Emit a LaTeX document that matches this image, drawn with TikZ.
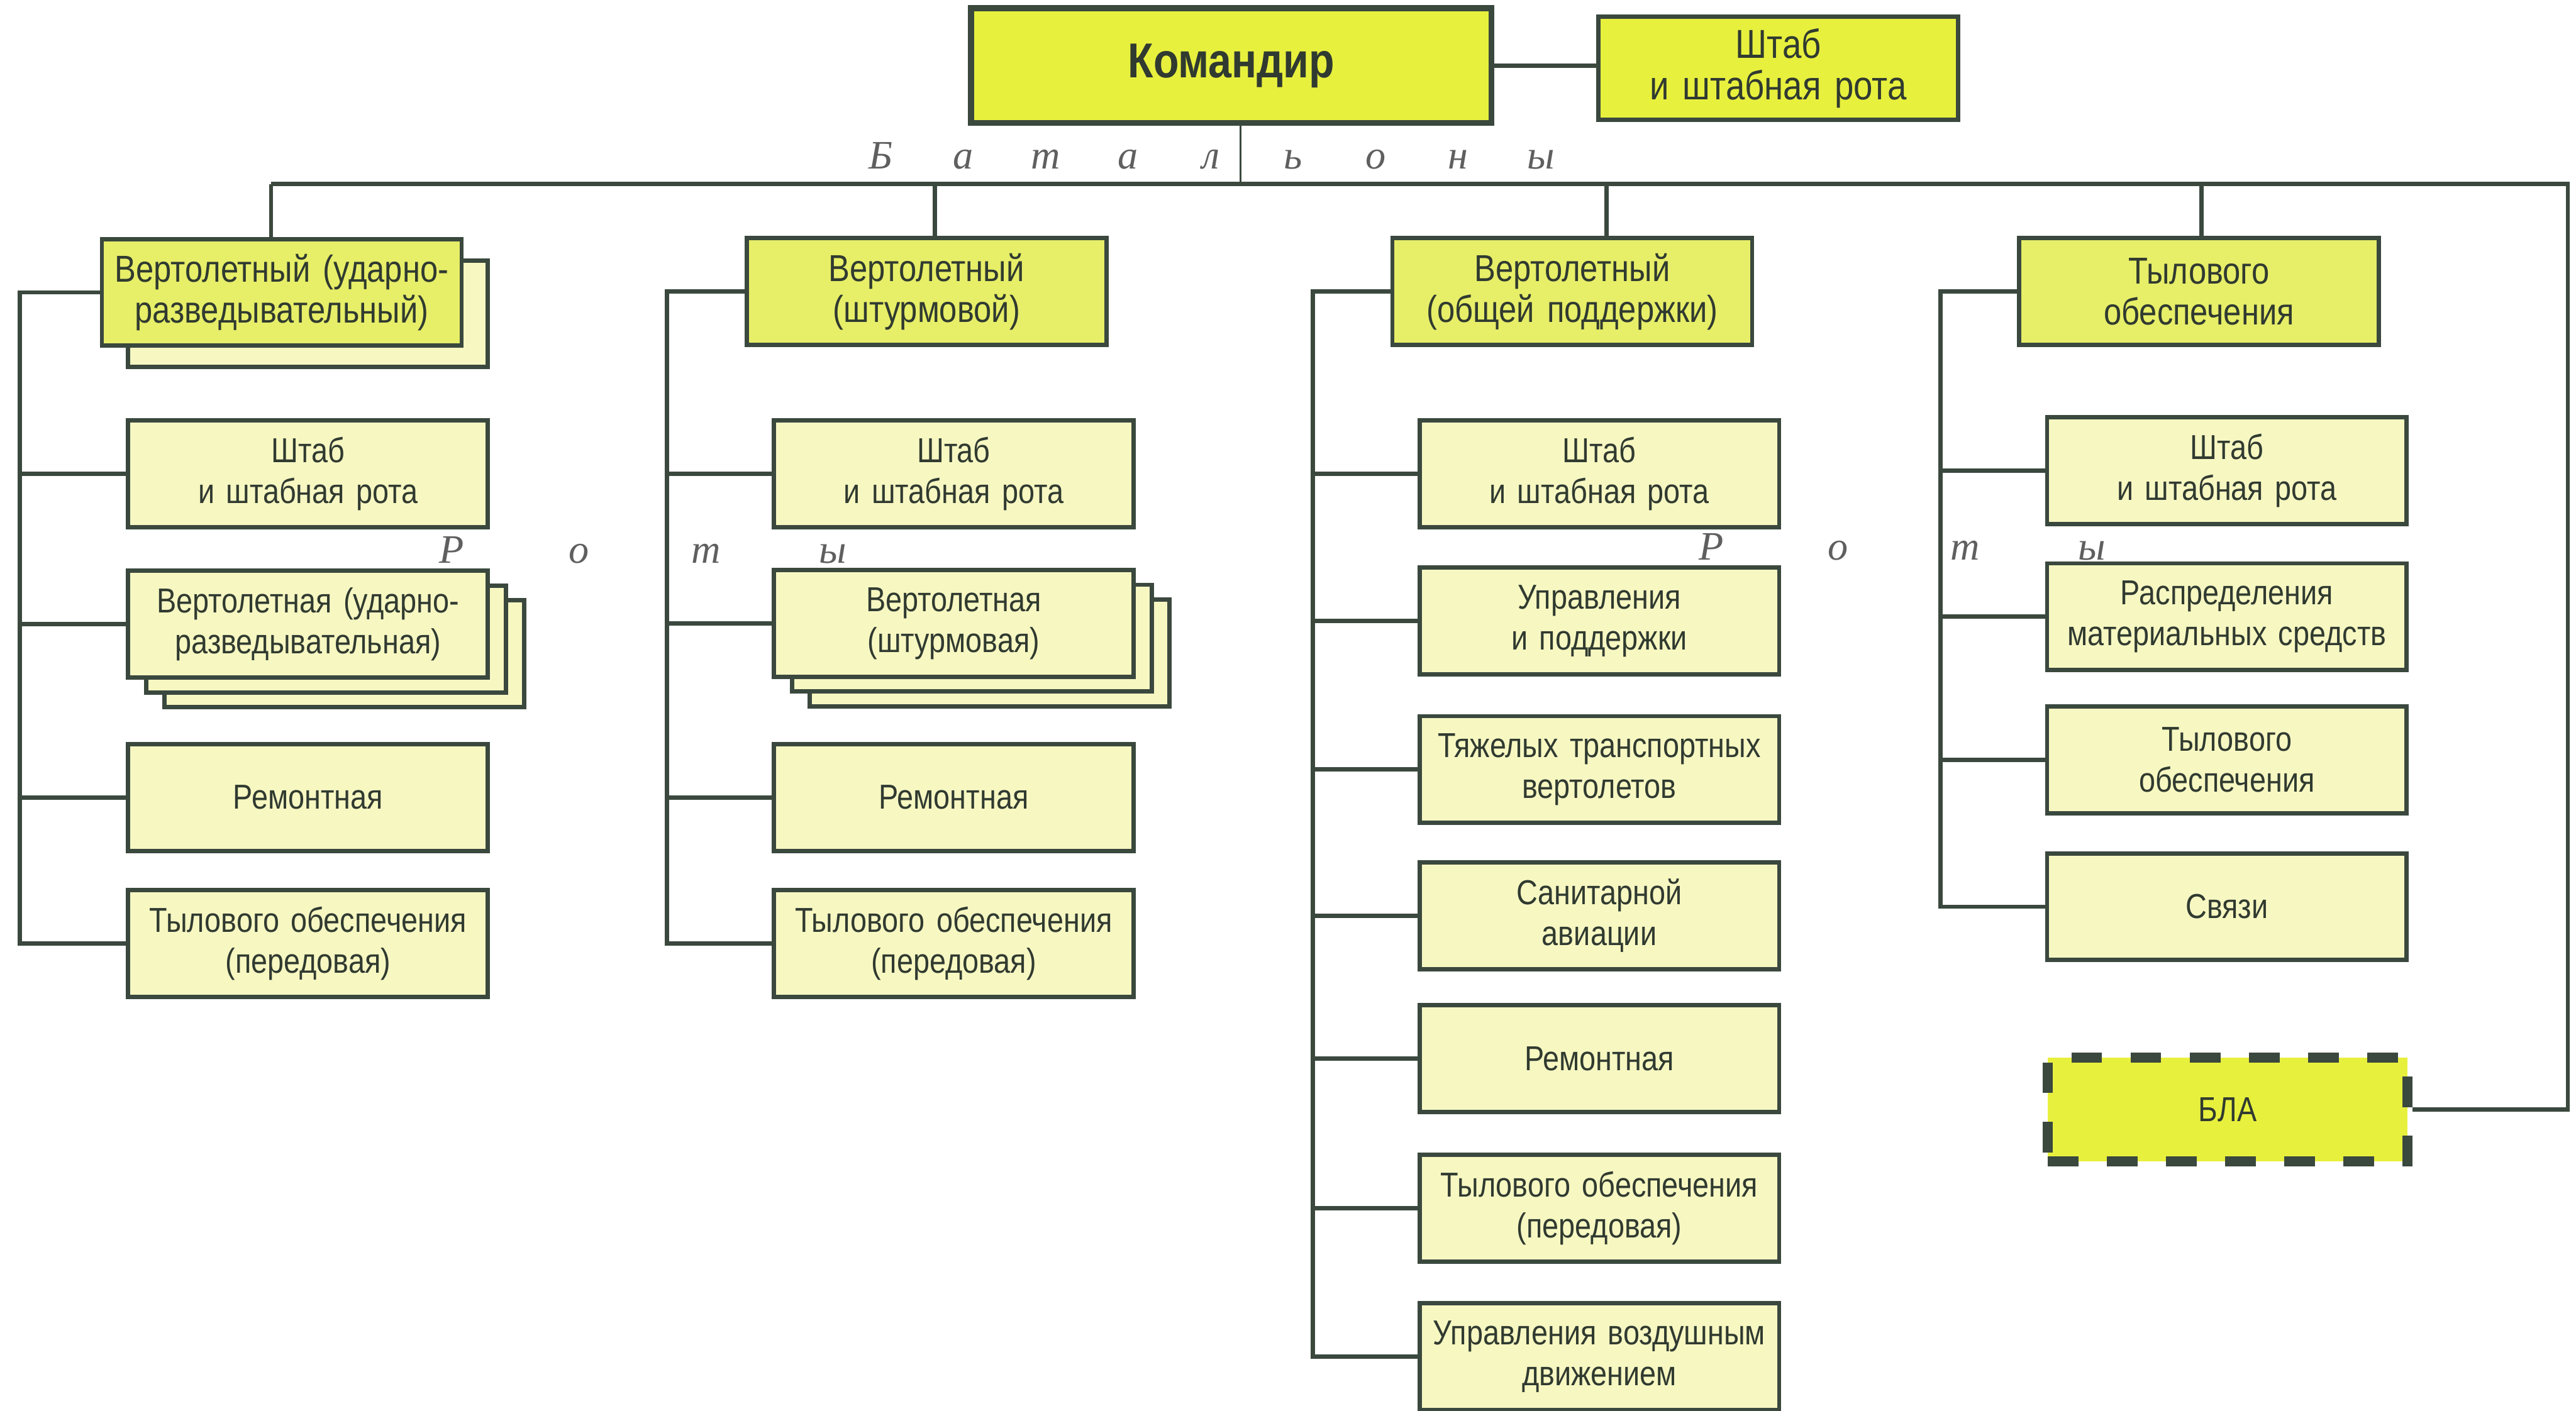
\documentclass[tikz,border=0pt]{standalone}
\usepackage{fontspec}
\setmainfont{Liberation Sans}[FakeStretch=0.85]
\newfontfamily\letterfont{Liberation Serif}
\usepackage{xcolor}
\usepackage{tikz}
\usetikzlibrary{positioning,shadows}

\definecolor{cmdyellow}{RGB}{232,240,62}
\definecolor{batyellow}{RGB}{231,238,104}
\definecolor{unityellow}{RGB}{247,247,194}
\definecolor{edge}{RGB}{58,72,62}
\definecolor{ink}{RGB}{48,58,48}
\definecolor{lettergray}{RGB}{95,95,95}

\newcommand{\ls}[2][1.005cm]{\makebox[#1][c]{#2}}

\begin{document}
\begin{tikzpicture}[
  x=0.02cm, y=-0.02cm,
  box/.style={rectangle, draw=edge, line width=1.5pt, text=ink, align=center, inner sep=0pt, minimum width=4.38cm, minimum height=1.3cm, text width=4.2cm},
  unit/.style={box, fill=unityellow, font=\fontsize{12}{14.2}\selectfont},
  battalion/.style={box, fill=batyellow, font=\fontsize{13}{14.2}\selectfont},
  stack/.style={unit,
    copy shadow={shadow xshift=0.44cm, shadow yshift=-0.36cm, fill=unityellow, draw=edge, line width=1.5pt},
    copy shadow={shadow xshift=0.22cm, shadow yshift=-0.18cm, fill=unityellow, draw=edge, line width=1.5pt}},
  link/.style={draw=edge, line width=1.5pt},
  spaced/.style={text=lettergray, font=\letterfont\itshape\fontsize{14}{14}\selectfont, inner sep=0pt}
]
\path[use as bounding box, fill=white] (0,0) rectangle (1568,859);

% top level
\node[box, fill=cmdyellow, minimum width=6.34cm, minimum height=1.4cm, line width=2pt, font=\bfseries\fontsize{17}{20}\selectfont] (cmd) at (749.5,40) {Командир};
\node[box, fill=cmdyellow, minimum height=1.26cm, font=\fontsize{14}{14.5}\selectfont] (hq) at (1082.5,41.5) {Штаб\\и штабная рота};
\node[spaced] (batlabel) at (737,95) {\ls{Б}\ls{а}\ls{т}\ls{а}\ls{л}\ls{ь}\ls{о}\ls{н}\ls{ы}};

% battalions
\node[battalion, copy shadow={shadow xshift=0.32cm, shadow yshift=-0.26cm, fill=unityellow, draw=edge, line width=1.5pt}] (b1) at (171.5,178) {Вертолетный (ударно-\\разведывательный)};
\node[battalion] (b2) at (564,177.5) {Вертолетный\\(штурмовой)};
\node[battalion] (b3) at (957,177.5) {Вертолетный\\(общей поддержки)};
\node[battalion] (b4) at (1338.5,177.5) {Тылового\\обеспечения};

\node[spaced] (rot1) at (391,335) {\ls[1.546cm]{Р}\ls[1.546cm]{о}\ls[1.546cm]{т}\ls[1.546cm]{ы}};
\node[spaced] (rot2) at (1157.5,333) {\ls[1.546cm]{Р}\ls[1.546cm]{о}\ls[1.546cm]{т}\ls[1.546cm]{ы}};

% companies, first battalion
\node[unit] (u11) at (187.5,288.5) {Штаб\\и штабная рота};
\node[stack] (u12) at (187.5,380) {Вертолетная (ударно-\\разведывательная)};
\node[unit] (u13) at (187.5,485.5) {Ремонтная};
\node[unit] (u14) at (187.5,574.5) {Тылового обеспечения\\(передовая)};

% companies, second battalion
\node[unit] (u21) at (580.5,288.5) {Штаб\\и штабная рота};
\node[stack] (u22) at (580.5,379.5) {Вертолетная\\(штурмовая)};
\node[unit] (u23) at (580.5,485.5) {Ремонтная};
\node[unit] (u24) at (580.5,574.5) {Тылового обеспечения\\(передовая)};

% companies, third battalion
\node[unit] (u31) at (973.5,288.5) {Штаб\\и штабная рота};
\node[unit] (u32) at (973.5,378) {Управления\\и поддержки};
\node[unit] (u33) at (973.5,468.5) {Тяжелых транспортных\\вертолетов};
\node[unit] (u34) at (973.5,557.5) {Санитарной\\авиации};
\node[unit] (u35) at (973.5,644.5) {Ремонтная};
\node[unit] (u36) at (973.5,735.5) {Тылового обеспечения\\(передовая)};
\node[unit] (u37) at (973.5,826) {Управления воздушным\\движением};

% companies, fourth battalion
\node[unit] (u41) at (1355.5,286.5) {Штаб\\и штабная рота};
\node[unit] (u42) at (1355.5,375.5) {Распределения\\материальных средств};
\node[unit] (u43) at (1355.5,462.5) {Тылового\\обеспечения};
\node[unit] (u44) at (1355.5,552) {Связи};
\node[box, fill=cmdyellow, minimum height=1.26cm, line width=3.5pt, dash pattern=on 0.37cm off 0.35cm, font=\fontsize{12}{14.2}\selectfont] (bla) at (1356,675.5) {БЛА};

% bus lines
\coordinate (top) at (755,75);
\coordinate (busL) at (165,112);
\coordinate (busR) at (1563,112);
\coordinate (d2) at (569,112);
\coordinate (d3) at (978,112);
\coordinate (d4) at (1340,112);
\coordinate (l1) at (12,180);
\coordinate (l2) at (406,180);
\coordinate (l3) at (799,180);
\coordinate (l4) at (1181,180);

\draw[link, line width=0.6pt] (top) -- (top |- busL);
\draw[link] (cmd.east) -- (hq.west |- cmd.east);
\draw[link] (busL) -- (busR) |- (bla.east);
\draw[link] (busL) -- (busL |- b1.north);
\draw[link] (d2) -- (d2 |- b2.north);
\draw[link] (d3) -- (d3 |- b3.north);
\draw[link] (d4) -- (d4 |- b4.north);

\draw[link] (b1.west) -| (l1 |- u14.west) -- (u14.west);
\draw[link] (u11.west) -- (u11.west -| l1);
\draw[link] (u12.west) -- (u12.west -| l1);
\draw[link] (u13.west) -- (u13.west -| l1);

\draw[link] (b2.west) -| (l2 |- u24.west) -- (u24.west);
\draw[link] (u21.west) -- (u21.west -| l2);
\draw[link] (u22.west) -- (u22.west -| l2);
\draw[link] (u23.west) -- (u23.west -| l2);

\draw[link] (b3.west) -| (l3 |- u37.west) -- (u37.west);
\draw[link] (u31.west) -- (u31.west -| l3);
\draw[link] (u32.west) -- (u32.west -| l3);
\draw[link] (u33.west) -- (u33.west -| l3);
\draw[link] (u34.west) -- (u34.west -| l3);
\draw[link] (u35.west) -- (u35.west -| l3);
\draw[link] (u36.west) -- (u36.west -| l3);

\draw[link] (b4.west) -| (l4 |- u44.west) -- (u44.west);
\draw[link] (u41.west) -- (u41.west -| l4);
\draw[link] (u42.west) -- (u42.west -| l4);
\draw[link] (u43.west) -- (u43.west -| l4);
\end{tikzpicture}
\end{document}
